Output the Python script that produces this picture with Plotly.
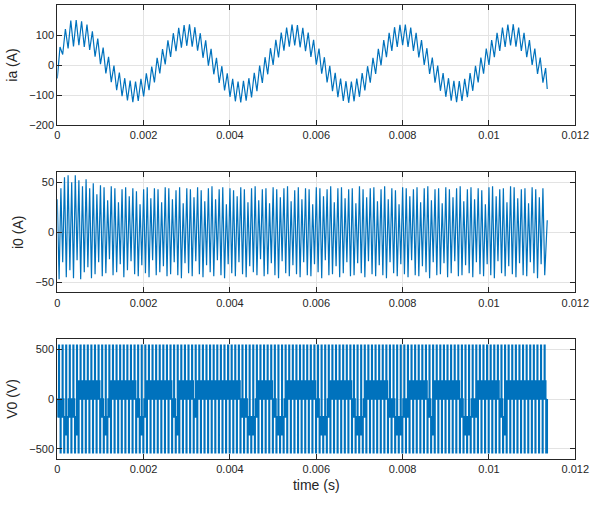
import numpy as np
import plotly.graph_objects as go

# ---------------- data ----------------
time_ticks = [0, 0.002, 0.004, 0.006, 0.008, 0.01, 0.012]
time_tick_labels = ["0", "0.002", "0.004", "0.006", "0.008", "0.01", "0.012"]

# ia : ripple extremes (one trough + one peak per 8 kHz ripple)
ia_ripple_period = 1 / 8000
ia_troughs = [
    -45, 35, 55, 62, 66, 60, 50, 28, 3, -28, -57, -84, -104, -118, -124, -120, -105, -84, -58, -28,
    2, 27, 46, 58, 64, 61, 48, 24, -2, -31, -60, -85, -106, -121, -125, -119, -108, -87, -60, -31,
    0, 25, 48, 61, 65, 59, 46, 27, 1, -29, -58, -87, -107, -120, -126, -121, -106, -85, -59, -30,
    -1, 26, 47, 60, 66, 60, 47, 25, 0, -30, -59, -86, -106, -119, -124, -120, -107, -86, -58, -29,
    0, 26, 47, 60, 65, 61, 47, 26, 0, -30, -59,
]
ia_peaks = [
    60, 120, 148, 150, 146, 135, 112, 88, 58, 27, -2, -25, -44, -52, -55, -46, -28, -5, 24, 53,
    82, 106, 124, 133, 136, 126, 106, 82, 54, 24, -4, -28, -46, -55, -53, -44, -26, -2, 26, 56,
    84, 108, 125, 135, 133, 124, 108, 84, 55, 26, -3, -26, -45, -54, -55, -45, -27, -4, 24, 54,
    83, 107, 126, 134, 135, 125, 107, 83, 56, 25, -2, -27, -44, -53, -54, -46, -27, -3, 25, 55,
    83, 107, 125, 135, 136, 125, 107, 83, 55, 25, -10,
]
ia_end_time, ia_end_value = 0.01135, -80

# i0 : oscillation extremes (one peak + one trough per 12 kHz cycle)
i0_period = 1 / 12000
i0_peaks = [
    33, 44, 55, 57, 50, 57, 52, 46, 53, 44,
    49, 38, 47, 45, 32, 46, 44, 30, 43, 45,
    36, 44, 41, 28, 43, 45, 34, 44, 43, 30,
    45, 44, 33, 42, 45, 29, 44, 43, 35, 45,
    42, 31, 44, 46, 33, 43, 45, 28, 44, 42,
    36, 45, 43, 30, 44, 46, 32, 43, 44, 29,
    45, 43, 35, 44, 46, 31, 42, 45, 33, 44,
    43, 28, 45, 44, 36, 43, 46, 30, 44, 45,
    34, 43, 44, 29, 46, 43, 35, 44, 45, 31,
    43, 46, 33, 44, 42, 28, 45, 44, 36, 43,
    45, 30, 44, 46, 32, 43, 44, 29, 45, 43,
    35, 44, 46, 31, 43, 45, 33, 44, 42, 28,
    45, 46, 36, 43, 44, 30, 46, 45, 34, 43,
    44, 29, 45, 43, 35, 44,
]
i0_troughs = [
    -47, -30, -45, -38, -46, -28, -47, -40, -35, -46,
    -42, -30, -44, -41, -27, -43, -40, -32, -45, -38,
    -29, -42, -44, -33, -41, -45, -28, -43, -40, -34,
    -44, -42, -30, -43, -46, -31, -41, -44, -29, -42,
    -45, -33, -40, -44, -28, -43, -46, -32, -41, -44,
    -30, -42, -45, -34, -40, -43, -27, -44, -42, -31,
    -43, -46, -29, -41, -44, -33, -42, -45, -30, -43,
    -44, -32, -40, -46, -28, -43, -42, -34, -45, -41,
    -30, -44, -43, -31, -41, -45, -29, -42, -44, -33,
    -43, -46, -30, -41, -44, -32, -42, -45, -28, -43,
    -44, -34, -40, -46, -30, -43, -42, -31, -45, -41,
    -29, -44, -43, -33, -41, -45, -30, -42, -44, -32,
    -43, -46, -29, -41, -44, -34, -42, -45, -31, -43,
    -44, -30, -41, -46, -32, -43,
]
i0_end_value = 12

# V0 : switching pattern, one code per 12 kHz switching period
v0_period = 1 / 12000
v0_codes = ("NNMNNM" "PPPPPP" "NMN" "PPPPPPP" "NMN" "PPPPPPP" "NM" "PPPP" "N"
            "PPPPPPPPPPPP" "NNMMN" "PPPP" "NMMN" "PPPPPPPP" "NMMN" "PPPPPP"
            "NMMN" "PPPPPP" "NNMMNN" "PPPPP" "NM" "PPPPPPP" "NMMNN" "PPPPPP"
            "NM" "PPPPPPPPPPP")
v0_level_sequences = {
    "P": [(0.00, 180), (0.13, 0), (0.26, 180), (0.40, 540), (0.55, 180),
          (0.62, 0), (0.72, 180), (0.78, 0), (0.85, -540)],
    "N": [(0.00, -180), (0.13, 0), (0.26, -180), (0.40, 540), (0.55, 0),
          (0.62, -180), (0.72, 0), (0.78, -180), (0.85, -540)],
    "M": [(0.00, -360), (0.13, -180), (0.26, -360), (0.40, 540), (0.55, -180),
          (0.62, -360), (0.72, -180), (0.78, -360), (0.85, -540)],
}
v0_end_value = 0

# ---------------- assemble traces ----------------
t_ia, y_ia = [], []
for k, (lo, hi) in enumerate(zip(ia_troughs, ia_peaks)):
    t_ia += [k * ia_ripple_period, (k + 0.5) * ia_ripple_period]
    y_ia += [lo, hi]
t_ia.append(ia_end_time)
y_ia.append(ia_end_value)

t_i0, y_i0 = [], []
for k, (hi, lo) in enumerate(zip(i0_peaks, i0_troughs)):
    t_i0 += [k * i0_period, (k + 0.5) * i0_period]
    y_i0 += [hi, lo]
t_i0.append(ia_end_time)
y_i0.append(i0_end_value)

t_v0, y_v0 = [], []
for k, code in enumerate(v0_codes):
    for frac, lvl in v0_level_sequences[code]:
        t_v0.append((k + frac) * v0_period)
        y_v0.append(lvl)
t_v0.append(ia_end_time)
y_v0.append(v0_end_value)

# ---------------- figure ----------------
blue = "#0072BD"
axis_col = "#262626"
grid_col = "#e3e3e3"
font_fam = "Liberation Sans, Arial, sans-serif"

fig = go.Figure()
fig.add_trace(go.Scatter(x=t_ia, y=y_ia, mode="lines",
                         line=dict(color=blue, width=1.2, simplify=False),
                         xaxis="x", yaxis="y", showlegend=False))
fig.add_trace(go.Scatter(x=t_i0, y=y_i0, mode="lines",
                         line=dict(color=blue, width=1.2, simplify=False),
                         xaxis="x2", yaxis="y2", showlegend=False))
fig.add_trace(go.Scatter(x=t_v0, y=y_v0, mode="lines",
                         line=dict(color=blue, width=1.6, shape="hv", simplify=False),
                         xaxis="x3", yaxis="y3", showlegend=False))

xdom = [57.3 / 592, 575.3 / 592]


def xax(anchor, title=None):
    d = dict(domain=xdom, anchor=anchor, range=[0, 0.012], tickvals=time_ticks,
             ticktext=time_tick_labels, showgrid=True, gridcolor=grid_col, gridwidth=1,
             showline=True, linecolor=axis_col, linewidth=1, mirror="ticks",
             ticks="inside", ticklen=5, tickcolor=axis_col, zeroline=False, automargin=False,
             tickfont=dict(family=font_fam, size=11, color=axis_col))
    if title:
        d["title"] = dict(text=title, font=dict(family=font_fam, size=14, color=axis_col), standoff=6)
    return d


def yax(anchor, dom, rng, ticks, title):
    return dict(domain=dom, anchor=anchor, range=rng, tickvals=ticks,
                showgrid=True, gridcolor=grid_col, gridwidth=1,
                showline=True, linecolor=axis_col, linewidth=1, mirror="ticks",
                ticks="inside", ticklen=5, tickcolor=axis_col, zeroline=False, automargin=False,
                tickfont=dict(family=font_fam, size=11, color=axis_col),
                title=dict(text=title, font=dict(family=font_fam, size=14, color=axis_col), standoff=8))


fig.update_layout(
    width=592, height=508,
    margin=dict(l=0, r=0, t=0, b=0),
    paper_bgcolor="white", plot_bgcolor="white",
    xaxis=xax("y"),
    xaxis2=xax("y2"),
    xaxis3=xax("y3", "time (s)"),
    yaxis=yax("x", [1 - 125 / 508, 1 - 5 / 508], [-200, 200], [-200, -100, 0, 100, 200], "ia (A)"),
    yaxis2=yax("x2", [1 - 292.3 / 508, 1 - 172.3 / 508], [-60, 60], [-50, 0, 50], "i0 (A)"),
    yaxis3=yax("x3", [1 - 458.7 / 508, 1 - 339.3 / 508], [-600, 600], [-500, 0, 500], "V0 (V)"),
)

fig.write_html("out.html", config={"displayModeBar": False},
               post_script="document.body.style.margin='0px';")
